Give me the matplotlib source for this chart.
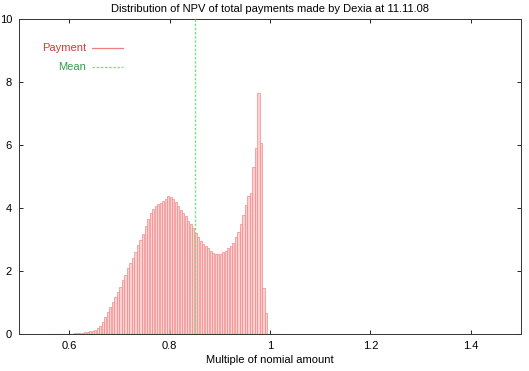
import numpy as np
import matplotlib
matplotlib.use("Agg")
import matplotlib.pyplot as plt

# histograma de NPV, bins de 0.005 desde 0.56
bin_start = 0.56
bin_width = 0.005
payment = [
    0, 0, 0, 0, 0, 0, 0, 0,                                  # 0.56 - 0.595
    0.01, 0.01, 0.02, 0.02, 0.03, 0.04, 0.05, 0.06,          # 0.60 - 0.635
    0.08, 0.10, 0.14, 0.19,                                  # 0.64 - 0.655
    0.25, 0.39, 0.55, 0.71, 0.87, 1.03, 1.18, 1.34,          # 0.66 - 0.695
    1.50, 1.71, 1.87, 2.08, 2.24, 2.40, 2.61, 2.83,          # 0.70 - 0.735
    3.00, 3.19, 3.43, 3.64, 3.85, 3.96, 4.06, 4.13,          # 0.74 - 0.775
    4.17, 4.23, 4.30, 4.38,                                  # 0.78 - 0.795
    4.35, 4.28, 4.18, 4.06, 3.95, 3.85, 3.74, 3.60,          # 0.80 - 0.835
    3.48, 3.35, 3.22, 3.08, 2.95, 2.86, 2.79, 2.72,          # 0.84 - 0.875
    2.64, 2.57, 2.54, 2.54, 2.55, 2.60, 2.64, 2.72,          # 0.88 - 0.915
    2.78, 2.90, 3.07, 3.25, 3.50, 3.78, 4.10, 4.38,          # 0.92 - 0.955
    4.48, 5.30, 5.90, 7.66, 6.05, 1.46, 0.67,                # 0.96 - 0.99
    0, 0, 0, 0, 0,                                           # 0.995 - 1.015
]
mean_value = 0.85

x_ticks = [0.6, 0.8, 1.0, 1.2, 1.4]
x_labels = ["0.6", "0.8", "1", "1.2", "1.4"]
y_ticks = [0, 2, 4, 6, 8, 10]

plt.rcParams["font.family"] = ["Liberation Sans", "DejaVu Sans"]
fs = 8

fig = plt.figure(figsize=(5.29, 3.71), dpi=100)
ax = fig.add_axes([19/529, 1 - 334/371, (521 - 19)/529, (334 - 19)/371])

x = bin_start + bin_width*np.arange(len(payment))
ax.bar(x, payment, width=bin_width*0.85, align="edge",
       facecolor="#ffd0d0", edgecolor="#f08a8a", linewidth=0.5, zorder=2)
ax.plot([x[0], x[-1] + bin_width], [0, 0], color="#e06060", lw=0.8, zorder=3)
ax.axvline(mean_value, color="#7ee07e", lw=1.0, ls=(0, (1.8, 1.2)), zorder=4)

# leyenda al estilo gnuplot
ax.text(0.633, 9.08, "Payment", color="#d83838", fontsize=fs, ha="right", va="center")
ax.plot([0.645, 0.707], [9.08, 9.08], color="#f08080", lw=0.9)
ax.text(0.633, 8.48, "Mean", color="#30a050", fontsize=fs, ha="right", va="center")
ax.plot([0.645, 0.707], [8.48, 8.48], color="#7ee07e", lw=1.0, ls=(0, (1.8, 1.2)))

ax.set_xlim(0.5, 1.5)
ax.set_ylim(0, 10)
ax.set_xticks(x_ticks)
ax.set_xticklabels(x_labels)
ax.set_yticks(y_ticks)
ax.tick_params(direction="in", top=True, right=True, length=3, width=0.6,
               labelsize=fs, pad=5)
for s in ax.spines.values():
    s.set_linewidth(0.7)
    s.set_color("#333333")

ax.set_title("Distribution of NPV of total payments made by Dexia at 11.11.08",
             fontsize=fs, pad=5)
ax.set_xlabel("Multiple of nomial amount", fontsize=fs, labelpad=3)

plt.savefig("out.png", dpi=100)
